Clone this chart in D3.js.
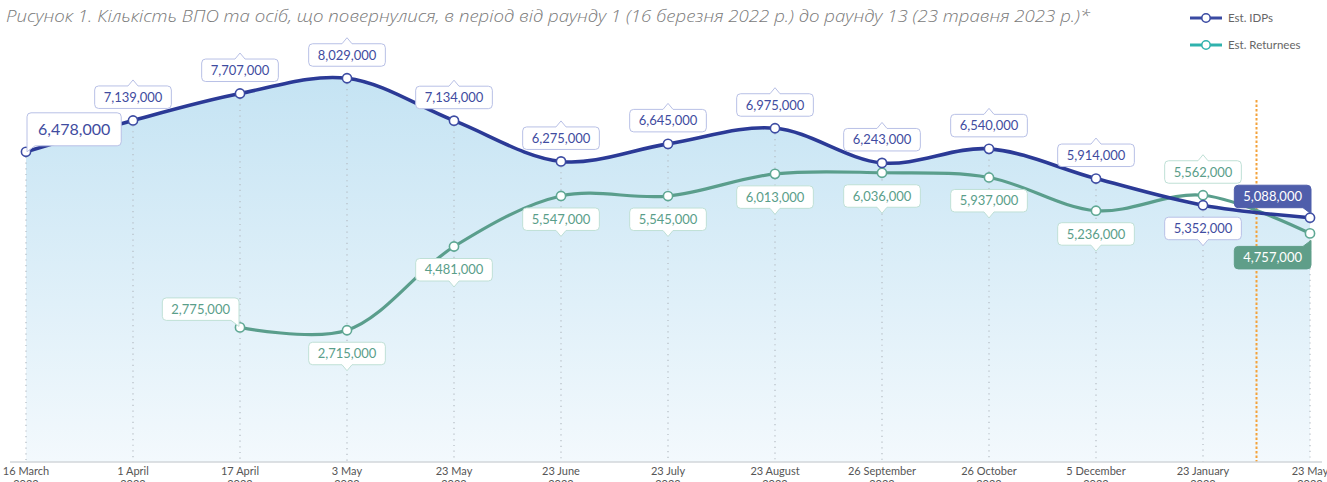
<!DOCTYPE html>
<html>
<head>
<meta charset="utf-8">
<script src="https://cdn.jsdelivr.net/npm/d3@7"></script>
<style>
  body { margin: 0; background: #fff; }
  svg { display: block; }
</style>
</head>
<body>
<div id="container"></div>
<script>
// dates des rounds (axe x)
const dates = ["16 March", "1 April", "17 April", "3 May", "23 May", "23 June", "23 July",
  "23 August", "26 September", "26 October", "5 December", "23 January", "23 May"];
const years = ["2022", "2022", "2022", "2022", "2022", "2022", "2022",
  "2022", "2022", "2022", "2022", "2023", "2023"];

// Est. IDPs
const idps = [6478000, 7139000, 7707000, 8029000, 7134000, 6275000, 6645000,
  6975000, 6243000, 6540000, 5914000, 5352000, 5088000];
// Est. Returnees (pas de valeur pour les deux premiers rounds)
const returnees = [null, null, 2775000, 2715000, 4481000, 5547000, 5545000,
  6013000, 6036000, 5937000, 5236000, 5562000, 4757000];

// où placer l'étiquette de chaque point
const idpLabelPos = ["bl", "t", "t", "t", "t", "t", "t", "t", "t", "t", "t", "b", "br"];
const retLabelPos = [null, null, "br", "b", "b", "b", "b", "b", "b", "b", "b", "t", "tr"];

const title = "Рисунок 1. Кількість ВПО та осіб, що повернулися, в період від раунду 1 (16 березня 2022 р.) до раунду 13 (23 травня 2023 р.)*";

const width = 1327, height = 482;
const idpColor = "#2b3a96", retColor = "#5a9e8c";

const svg = d3.select("#container").append("svg")
  .attr("width", width).attr("height", height)
  .style("font-family", "Lato, 'Open Sans', sans-serif");

const x = d3.scalePoint().domain(d3.range(dates.length)).range([26, 1310]);
const y = d3.scaleLinear().domain([0, 9000000]).range([459, 32.2]);
const axisY = 462;

// dégradé sous la courbe
const grad = svg.append("defs").append("linearGradient")
  .attr("id", "area-grad").attr("x1", 0).attr("y1", 0).attr("x2", 0).attr("y2", 1)
  .attr("gradientUnits", "userSpaceOnUse")
  .attr("y1", 70).attr("y2", axisY).attr("x1", 0).attr("x2", 0);
grad.append("stop").attr("offset", 0).attr("stop-color", "#c4e3f3");
grad.append("stop").attr("offset", 1).attr("stop-color", "#f3f9fd");

// titre
svg.append("text")
  .attr("x", 6).attr("y", 22)
  .attr("font-family", "'Open Sans', Lato, sans-serif")
  .attr("font-style", "italic").attr("font-weight", 300)
  .attr("font-size", 15.5).attr("fill", "#7a7a7a")
  .attr("textLength", 1084).attr("lengthAdjust", "spacingAndGlyphs")
  .text(title);

// légende
const legend = [{name: "Est. IDPs", color: "#3a4aa2", y: 18}, {name: "Est. Returnees", color: "#2fb2ad", y: 45}];
const lg = svg.append("g").selectAll("g").data(legend).join("g");
lg.append("line").attr("x1", 1190).attr("x2", 1222).attr("y1", d => d.y).attr("y2", d => d.y)
  .attr("stroke", d => d.color).attr("stroke-width", 3);
lg.append("circle").attr("cx", 1206).attr("cy", d => d.y).attr("r", 4.2)
  .attr("fill", "#fff").attr("stroke", d => d.color).attr("stroke-width", 1.5);
lg.append("text").attr("x", 1228).attr("y", d => d.y + 4).attr("font-size", 11.5)
  .attr("fill", "#666").text(d => d.name);

const curve = d3.curveCatmullRom.alpha(0.5);

// aire sous la courbe des IDPs
svg.append("path")
  .datum(idps)
  .attr("fill", "url(#area-grad)")
  .attr("d", d3.area().x((d, i) => x(i)).y0(axisY).y1(d => y(d)).curve(curve));

// lignes pointillées verticales
svg.append("g").selectAll("line").data(idps).join("line")
  .attr("x1", (d, i) => x(i)).attr("x2", (d, i) => x(i))
  .attr("y1", d => y(d) + 5).attr("y2", axisY)
  .attr("stroke", "#b5bcc4").attr("stroke-width", 1.2).attr("stroke-dasharray", "1.2,4.5");

// ligne orange (pointillée)
svg.append("line")
  .attr("x1", (x(11) + x(12)) / 2).attr("x2", (x(11) + x(12)) / 2)
  .attr("y1", 100).attr("y2", axisY)
  .attr("stroke", "#f4a23a").attr("stroke-width", 2).attr("stroke-dasharray", "2.5,2");

// axe
svg.append("line").attr("x1", 10).attr("x2", 1322).attr("y1", axisY).attr("y2", axisY)
  .attr("stroke", "#d2d6da").attr("stroke-width", 1.5);

const xl = svg.append("g").selectAll("text").data(dates).join("text")
  .attr("x", (d, i) => x(i)).attr("y", 475)
  .attr("text-anchor", "middle").attr("font-size", 11).attr("fill", "#555");
xl.append("tspan").text(d => d);
xl.append("tspan").attr("x", (d, i) => x(i)).attr("dy", 13).text((d, i) => years[i]);

// les courbes
svg.append("path").datum(returnees)
  .attr("fill", "none").attr("stroke", retColor).attr("stroke-width", 3.2)
  .attr("d", d3.line().defined(d => d != null).x((d, i) => x(i)).y(d => y(d)).curve(curve));
svg.append("path").datum(idps)
  .attr("fill", "none").attr("stroke", idpColor).attr("stroke-width", 3.6)
  .attr("d", d3.line().x((d, i) => x(i)).y(d => y(d)).curve(curve));

// les points
function points(data, color) {
  svg.append("g").selectAll("circle")
    .data(data.map((v, i) => ({v, i})).filter(d => d.v != null))
    .join("circle")
    .attr("cx", d => x(d.i)).attr("cy", d => y(d.v)).attr("r", 4.6)
    .attr("fill", "#fff").attr("stroke", color).attr("stroke-width", 1.6);
}
points(returnees, "#5fa894");
points(idps, "#3d4ca3");

// forme de bulle avec une petite pointe
function calloutPath(x0, y0, w, h, p) {
  const x1 = x0 + w, y1 = y0 + h, r = 4, cx = x0 + w / 2, s = 6;
  let d = `M${x0 + r},${y0}`;
  if (p === "t") d += `L${cx - 5},${y0}L${cx},${y0 - s}L${cx + 5},${y0}`;
  if (p === "tr") d += `L${x1 - 8},${y0}L${x1},${y0 - s}L${x1},${y0 + r}`;
  else d += `L${x1 - r},${y0}Q${x1},${y0} ${x1},${y0 + r}`;
  if (p === "br") d += `L${x1},${y1 + s}L${x1 - 8},${y1}`;
  else d += `L${x1},${y1 - r}Q${x1},${y1} ${x1 - r},${y1}`;
  if (p === "b") d += `L${cx + 5},${y1}L${cx},${y1 + s}L${cx - 5},${y1}`;
  if (p === "bl") d += `L${x0 + 8},${y1}L${x0},${y1 + s}L${x0},${y1 - r}`;
  else d += `L${x0 + r},${y1}Q${x0},${y1} ${x0},${y1 - r}`;
  d += `L${x0},${y0 + r}Q${x0},${y0} ${x0 + r},${y0}Z`;
  return d;
}

const fmt = d3.format(",");

function labels(data, pos, stroke, text, fill) {
  const g = svg.append("g");
  data.forEach((v, i) => {
    if (v == null) return;
    const p = pos[i];
    const px = x(i), py = y(v);
    const last = i === data.length - 1;
    const big = p === "bl";
    const fs = big ? 16 : 13;
    const h = big ? 33 : 22.5;
    const t = g.append("text").attr("font-size", fs).text(fmt(v));
    const tw = t.node().getComputedTextLength();
    const w = tw + (big ? 22 : 18);
    let x0, y0, pp = p;
    if (p === "t") { x0 = px - w / 2; y0 = py - 12 - h; }
    else if (p === "b") { x0 = px - w / 2; y0 = py + 12; }
    else if (p === "bl") { x0 = px + 1; y0 = py - 6 - h; }
    else if (p === "br") { x0 = px + (last ? 1 : -1) - w; y0 = py - (last ? 10 : 7) - h; }
    else if (p === "tr") { x0 = px + 1 - w; y0 = py + 13; }
    g.insert("path", "text")
      .attr("d", calloutPath(x0, y0, w, h, pp))
      .attr("fill", last ? fill : "#fff")
      .attr("stroke", last ? fill : stroke).attr("stroke-width", 1);
    t.attr("x", x0 + w / 2).attr("y", y0 + h / 2 + fs * 0.36)
      .attr("text-anchor", "middle")
      .attr("fill", last ? "#fff" : text);
  });
}
labels(idps, idpLabelPos, "#b8c0e6", "#3f4ca0", "#4f5eab");
labels(returnees, retLabelPos, "#bfe0d6", "#5a9e8a", "#5f9e89");
</script>
</body>
</html>
